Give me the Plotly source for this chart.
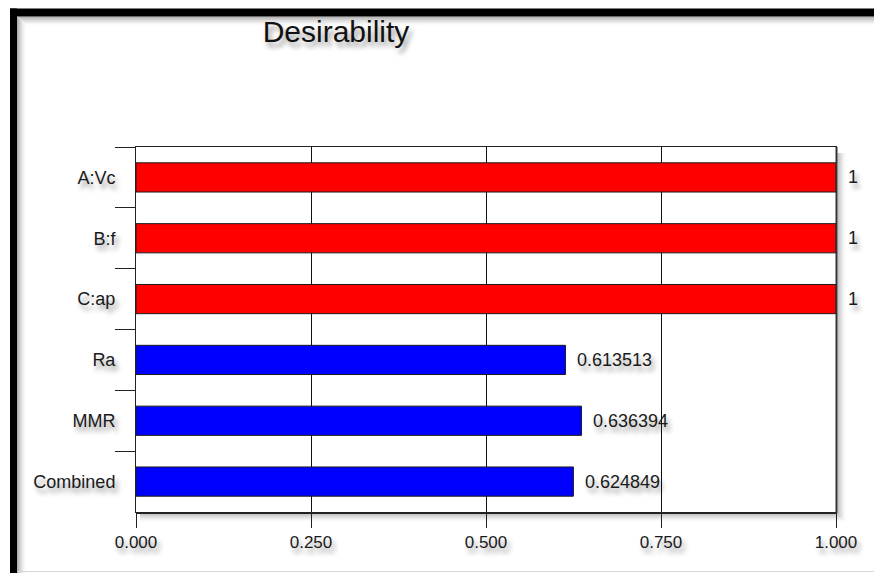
import plotly.graph_objects as go

# Desirability values per factor / response
factors = ["A:Vc", "B:f", "C:ap", "Ra", "MMR", "Combined"]
desirability = [1.0, 1.0, 1.0, 0.613513, 0.636394, 0.624849]
value_labels = ["1", "1", "1", "0.613513", "0.636394", "0.624849"]
bar_colors = ["#FF0000", "#FF0000", "#FF0000", "#0000FF", "#0000FF", "#0000FF"]
x_ticks = [0.0, 0.25, 0.5, 0.75, 1.0]

W, H = 874, 573
ML, MR, MT, MB = 136, 38, 147, 61
PW, PH = W - ML - MR, H - MT - MB


def px_x(px):
    return (px - ML) / PW


def px_y(py):
    return (H - MB - py) / PH


FONT = "Liberation Sans, Arial, sans-serif"
SHADOW = "3px 5px 5px rgba(0,0,0,0.40)"

fig = go.Figure()
fig.add_trace(go.Bar(
    y=factors,
    x=desirability,
    orientation="h",
    width=0.48,
    marker=dict(color=bar_colors, line=dict(color="#1a1a1a", width=1)),
    hoverinfo="skip",
    showlegend=False,
))

# value labels to the right of each bar
annotations = []
for f, v, t in zip(factors, desirability, value_labels):
    annotations.append(dict(
        x=v, y=f, xref="x", yref="y", text=t, showarrow=False,
        xanchor="left", yanchor="middle", xshift=10,
        font=dict(family=FONT, size=18, color="#1a1a1a", shadow=SHADOW),
    ))

shapes = []
# heavy black frame on the left and top
shapes.append(dict(type="rect", xref="paper", yref="paper",
                   x0=px_x(10), x1=px_x(17), y0=px_y(H + 5), y1=px_y(8.5),
                   fillcolor="black", line=dict(width=0), layer="above"))
shapes.append(dict(type="rect", xref="paper", yref="paper",
                   x0=px_x(10), x1=px_x(W + 5), y0=px_y(16.5), y1=px_y(8.5),
                   fillcolor="black", line=dict(width=0), layer="above"))
# soft inner shade along the frame
for i in range(9):
    a = 0.32 * (1 - i / 9) ** 1.6
    shapes.append(dict(type="line", xref="paper", yref="paper",
                       x0=px_x(17.5 + i), x1=px_x(17.5 + i),
                       y0=px_y(17 + i), y1=px_y(H + 5),
                       line=dict(color=f"rgba(0,0,0,{a:.3f})", width=1), layer="below"))
    shapes.append(dict(type="line", xref="paper", yref="paper",
                       x0=px_x(18 + i), x1=px_x(W + 5),
                       y0=px_y(17 + i), y1=px_y(17 + i),
                       line=dict(color=f"rgba(0,0,0,{a:.3f})", width=1), layer="below"))
# thin grey rule along the bottom edge
shapes.append(dict(type="line", xref="paper", yref="paper",
                   x0=px_x(17), x1=px_x(W + 5), y0=px_y(571.5), y1=px_y(571.5),
                   line=dict(color="#d8d8d8", width=1), layer="below"))
# drop shadow of the plotting frame
for i in range(1, 9):
    a = 0.30 * (1 - i / 9) ** 1.4
    shapes.append(dict(type="line", xref="paper", yref="paper",
                       x0=px_x(837 + i), x1=px_x(837 + i),
                       y0=px_y(MT + 6), y1=px_y(H - MB + 1 + i),
                       line=dict(color=f"rgba(0,0,0,{a:.3f})", width=1), layer="below"))
    shapes.append(dict(type="line", xref="paper", yref="paper",
                       x0=px_x(ML + 4), x1=px_x(837 + i),
                       y0=px_y(H - MB + 1 + i), y1=px_y(H - MB + 1 + i),
                       line=dict(color=f"rgba(0,0,0,{a:.3f})", width=1), layer="below"))
# heavier bottom and right frame edges
shapes.append(dict(type="line", xref="paper", yref="paper",
                   x0=0, x1=1, y0=px_y(H - MB + 1), y1=px_y(H - MB + 1),
                   line=dict(color="#222", width=2), layer="above"))
shapes.append(dict(type="line", xref="paper", yref="paper",
                   x0=1 + 0.5 / PW, x1=1 + 0.5 / PW, y0=px_y(H - MB + 1), y1=1,
                   line=dict(color="#333", width=2), layer="above"))

fig.update_layout(
    width=W, height=H,
    margin=dict(l=ML, r=MR, t=MT, b=MB, pad=0),
    paper_bgcolor="white", plot_bgcolor="white",
    title=dict(text="Desirability", xref="container", yref="container",
               x=336 / W, xanchor="center", y=1 - 31 / H, yanchor="middle",
               font=dict(family=FONT, size=30, color="#111", shadow=SHADOW)),
    xaxis=dict(range=[0, 1], tickvals=x_ticks, tickformat=".3f",
               ticks="outside", ticklen=15, tickcolor="#222", tickwidth=1,
               showgrid=True, gridcolor="#111", gridwidth=1,
               showline=True, linecolor="#222", linewidth=1, mirror=True,
               zeroline=False, fixedrange=True,
               tickfont=dict(family=FONT, size=17, color="#1a1a1a", shadow=SHADOW)),
    yaxis=dict(categoryorder="array", categoryarray=factors, autorange="reversed",
               tickson="boundaries", ticks="outside", ticklen=20,
               tickcolor="#222", tickwidth=1, ticklabelstandoff=16,
               showline=True, linecolor="#222", linewidth=1, mirror=True,
               showgrid=False, zeroline=False, fixedrange=True,
               tickfont=dict(family=FONT, size=18, color="#1a1a1a", shadow=SHADOW)),
    annotations=annotations,
    shapes=shapes,
    bargap=0.52,
)

fig.write_html("out.html")
